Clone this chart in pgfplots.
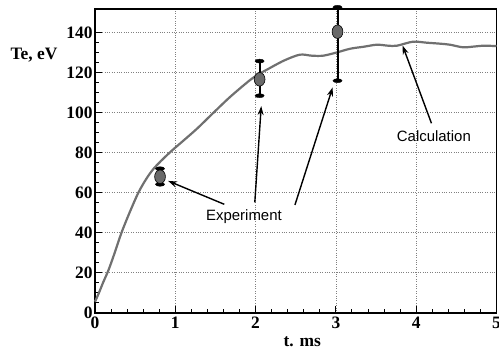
\documentclass[border=0pt]{standalone}
\usepackage{pgfplots}
\pgfplotsset{compat=1.18}
\usetikzlibrary{arrows.meta}
\usepackage{fontspec}
\setmainfont{Liberation Serif}
\newfontfamily\annfont{Liberation Sans}

% elliptical marks: the measured points and the caps of their error bars
\pgfdeclareplotmark{expell}{%
  \pgfpathellipse{\pgfpointorigin}{\pgfqpoint{5.4bp}{0bp}}{\pgfqpoint{0bp}{6.8bp}}%
  \pgfusepathqfillstroke}
\pgfdeclareplotmark{capell}{%
  \pgfpathellipse{\pgfpointorigin}{\pgfqpoint{4.6bp}{0bp}}{\pgfqpoint{0bp}{2bp}}%
  \pgfusepathqfillstroke}

\definecolor{calcgray}{RGB}{112,112,112}
\definecolor{ptgray}{RGB}{105,105,105}

% calculated electron temperature
\pgfplotstableread{
t     Te
0.00  5.5
0.05  10.0
0.10  15.0
0.17  21.5
0.25  30.5
0.33  40.0
0.43  50.0
0.54  60.0
0.64  67.0
0.73  72.0
0.85  77.0
0.97  81.5
1.10  86.0
1.27  92.0
1.45  99.0
1.68  107.8
1.93  116.3
2.05  119.5
2.14  121.5
2.35  126.0
2.55  129.0
2.70  128.5
2.84  128.5
3.00  130.0
3.18  132.0
3.35  133.0
3.51  134.0
3.65  133.5
3.76  133.5
3.96  135.5
4.13  135.0
4.30  134.5
4.42  134.0
4.58  132.7
4.70  133.0
4.84  133.5
5.00  133.3
}\calc

% measured points with upper and lower errors
\pgfplotstableread{
t     Te     ep    em
0.81  68.0   4.0   3.8
2.05  116.7  9.1   8.2
3.02  140.5  12.2  24.5
}\expt

\begin{document}
\begin{tikzpicture}
\begin{axis}[
  scale only axis,
  width=401.5bp, height=303.7bp,
  xmin=0, xmax=5, ymin=0, ymax=151.85,
  xtick={0,1,2,3,4,5},
  ytick={0,20,40,60,80,100,120,140},
  minor x tick num=4,
  minor y tick num=3,
  tick pos=left,
  tick align=inside,
  major tick length=7bp,
  minor tick length=4bp,
  every tick/.style={black, line width=1bp},
  axis line style={line width=1.6bp, black},
  grid=major,
  major grid style={dotted, gray, line width=0.8bp},
  tick label style={font=\fontsize{17.5}{17.5}\selectfont\bfseries},
  xticklabel style={yshift=-1bp},
  yticklabel style={xshift=1bp},
  /pgf/number format/assume math mode=true,
  clip=false,
]
\addplot[calcgray, line width=2.2bp, smooth, no marks] table[x=t, y=Te] {\calc};

\addplot[only marks, mark=expell, mark options={fill=ptgray, draw=black, line width=0.6bp},
  error bars/.cd, y dir=both, y explicit,
  error bar style={line width=2bp, black},
  error mark=capell,
  error mark options={fill=black, draw=black, line width=0.4bp, rotate=90}]
  table[x=t, y=Te, y error plus=ep, y error minus=em] {\expt};

\node[font=\fontsize{17.5}{17.5}\selectfont\bfseries] at (axis cs:-0.76,129) {Te, eV};
\node[font=\fontsize{17.5}{17.5}\selectfont\bfseries] at (axis cs:2.58,-14.5) {t. ms};

\node[font=\annfont\fontsize{15}{15}\selectfont] at (axis cs:4.22,88.5) {Calculation};
\node[font=\annfont\fontsize{15}{15}\selectfont] at (axis cs:1.855,48) {Experiment};

\draw[line width=1.4bp, -{Stealth[length=9bp, width=6bp]}] (axis cs:4.19,94.7) -- (axis cs:3.83,133.6);
\draw[line width=1.4bp, -{Stealth[length=9bp, width=6bp]}] (axis cs:1.61,54.2) -- (axis cs:0.91,65.9);
\draw[line width=1.4bp, -{Stealth[length=9bp, width=6bp]}] (axis cs:1.99,55.2) -- (axis cs:2.07,103.3);
\draw[line width=1.4bp, -{Stealth[length=9bp, width=6bp]}] (axis cs:2.49,53.9) -- (axis cs:2.96,112.7);

\coordinate (bbA) at (axis cs:-1.183,-19.65);
\coordinate (bbB) at (axis cs:5.031,156.35);
\end{axis}
\pgfresetboundingbox
\path[use as bounding box] (bbA) rectangle (bbB);
\end{tikzpicture}
\end{document}
